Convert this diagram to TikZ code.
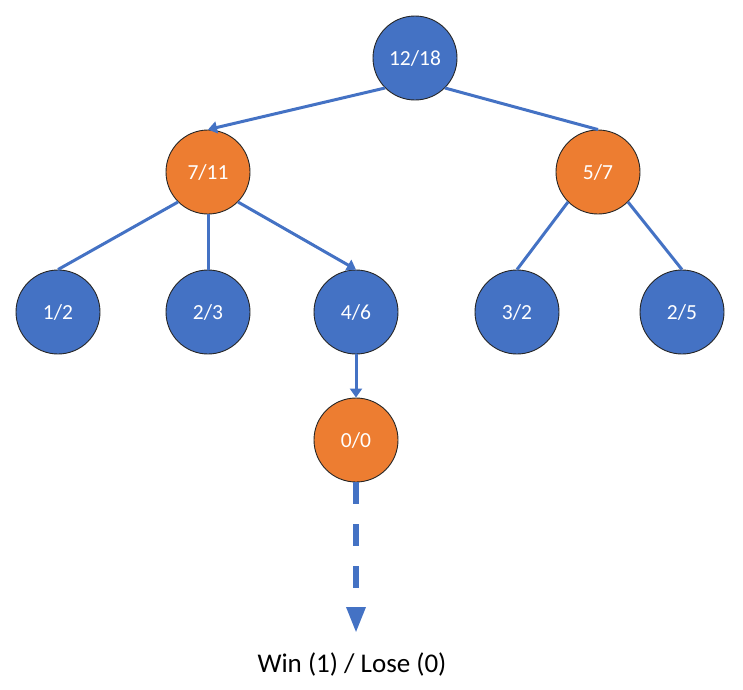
\documentclass[tikz,border=0pt]{standalone}
\usepackage{fontspec}
\setmainfont{Carlito}
\usetikzlibrary{arrows.meta}
\definecolor{nodeblue}{HTML}{4472C4}
\definecolor{nodeorange}{HTML}{ED7D31}
\begin{document}
\begin{tikzpicture}[x=1pt,y=-1pt,
  tnode/.style={circle,draw=black!85,line width=0.9pt,minimum size=84pt,inner sep=0pt,text=white,font=\fontsize{21.5}{24}\selectfont},
  bnode/.style={tnode,fill=nodeblue},
  onode/.style={tnode,fill=nodeorange},
  edge/.style={draw=nodeblue,line width=3pt},
  arr/.style={edge,-{Triangle[width=12pt,length=9pt]}},
  darr/.style={draw=nodeblue,line width=6pt,dash pattern=on 22pt off 20pt,-{Triangle[width=18pt,length=26pt]}},
  lbl/.style={font=\fontsize{27}{30}\selectfont,text=black}]
\useasboundingbox (0,0) rectangle (743,689);
\node[bnode] (A) at (415,58) {12/18};
\node[onode] (B) at (208,172) {7/11};
\node[onode] (C) at (598,172) {5/7};
\node[bnode] (D) at (58,312) {1/2};
\node[bnode] (E) at (208,312) {2/3};
\node[bnode] (F) at (356,312) {4/6};
\node[bnode] (G) at (517,312) {3/2};
\node[bnode] (H) at (682,312) {2/5};
\node[onode] (I) at (356,440) {0/0};
\coordinate (J) at (356,633);
\node[lbl] (L) at (352,664) {Win (1) / Lose (0)};
\draw[arr] (A.225) -- (B.north);
\draw[edge] (A.315) -- (C.north);
\draw[edge] (B.225) -- (D.north);
\draw[edge] (B.south) -- (E.north);
\draw[arr] (B.315) -- (F.north);
\draw[edge] (C.225) -- (G.north);
\draw[edge] (C.315) -- (H.north);
\draw[arr] (F.south) -- (I.north);
\draw[darr] (I.south) -- (J);
\end{tikzpicture}
\end{document}
